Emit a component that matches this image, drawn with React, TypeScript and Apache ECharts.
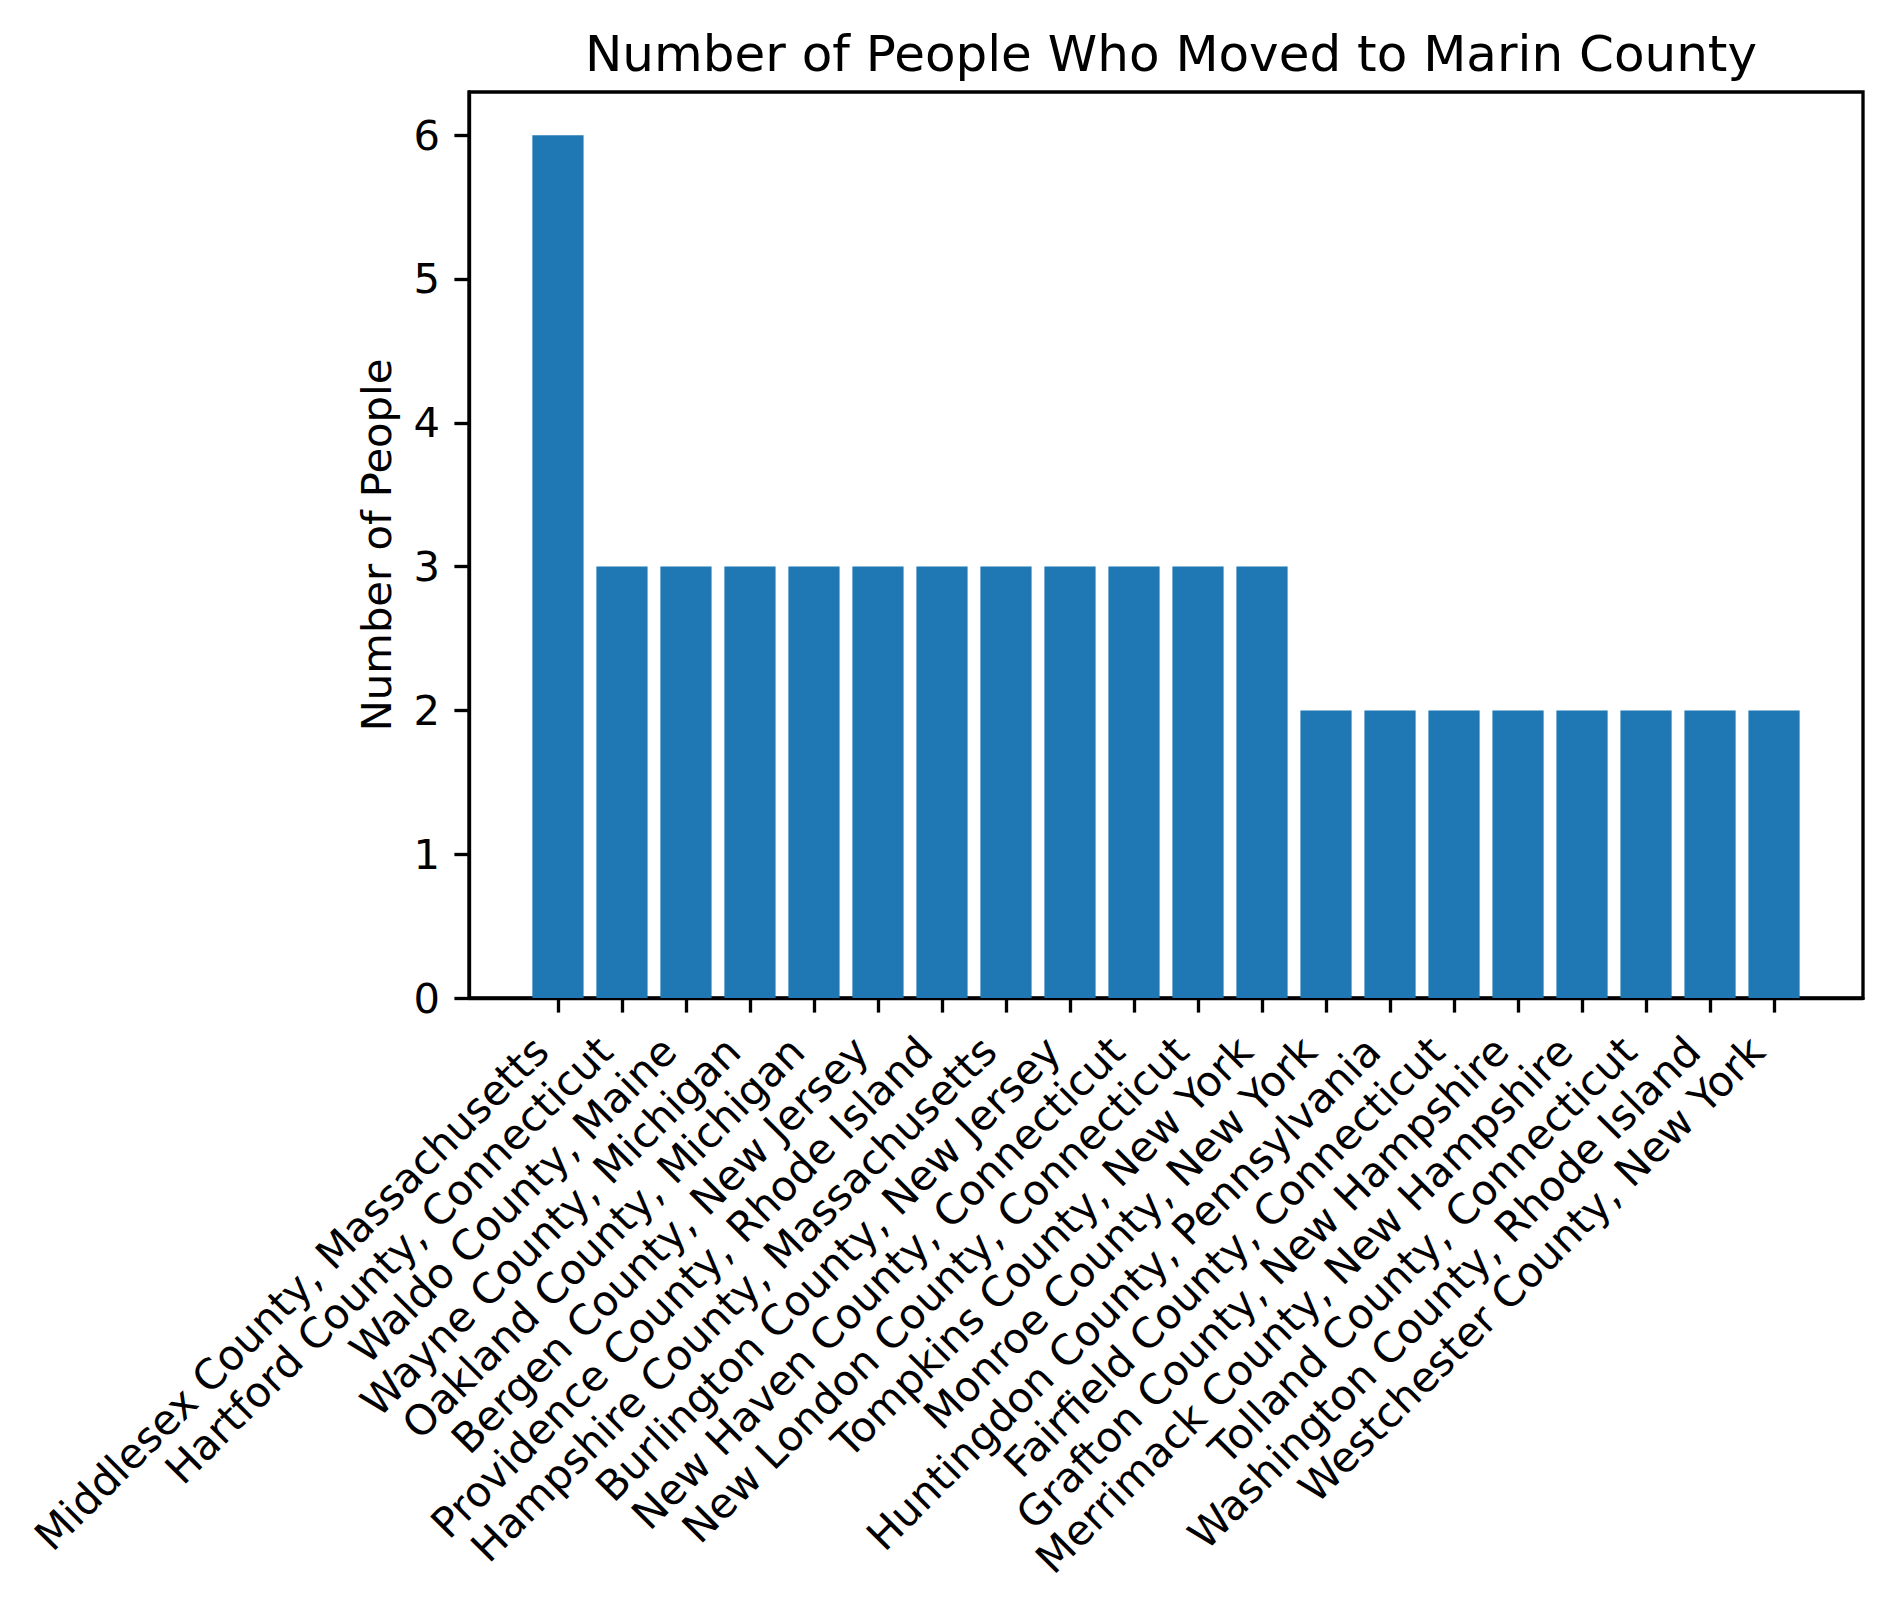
import React, { useEffect, useRef } from "react";
import * as echarts from "echarts";

const categories: string[] = [
  "Middlesex County, Massachusetts",
  "Hartford County, Connecticut",
  "Waldo County, Maine",
  "Wayne County, Michigan",
  "Oakland County, Michigan",
  "Bergen County, New Jersey",
  "Providence County, Rhode Island",
  "Hampshire County, Massachusetts",
  "Burlington County, New Jersey",
  "New Haven County, Connecticut",
  "New London County, Connecticut",
  "Tompkins County, New York",
  "Monroe County, New York",
  "Huntingdon County, Pennsylvania",
  "Fairfield County, Connecticut",
  "Grafton County, New Hampshire",
  "Merrimack County, New Hampshire",
  "Tolland County, Connecticut",
  "Washington County, Rhode Island",
  "Westchester County, New York",
];
const values: number[] = [6, 3, 3, 3, 3, 3, 3, 3, 3, 3, 3, 3, 2, 2, 2, 2, 2, 2, 2, 2];
const yTicks: number[] = [0, 1, 2, 3, 4, 5, 6];

const TITLE = "Number of People Who Moved to Marin County";
const Y_NAME = "Number of People";

export default function App() {
  const ref = useRef<HTMLDivElement>(null);
  useEffect(() => {
    if (!ref.current) return;
    const chart = echarts.init(ref.current, undefined, { renderer: "svg" });
    const gridLeft = 469;
    const gridTop = 92;
    const gridWidth = 1394;
    const gridHeight = 906;
    const xMin = -1.39;
    const xMax = categories.length - 1 + 0.4 + 0.99;
    const barW = (gridWidth / (xMax - xMin)) * 0.8;
    const font = "DejaVu Sans";
    const lw = 3.33;
    const xIdx = categories.map((_, i) => i);
    chart.setOption({
      animation: false,
      backgroundColor: "#ffffff",
      title: {
        text: TITLE,
        left: gridLeft + gridWidth / 2,
        textAlign: "center",
        top: 24,
        textStyle: { fontFamily: font, fontSize: 50, fontWeight: "normal", color: "#000" },
      },
      grid: {
        left: gridLeft,
        top: gridTop,
        width: gridWidth,
        height: gridHeight,
        show: true,
        borderColor: "#000",
        borderWidth: lw,
        backgroundColor: "transparent",
      },
      xAxis: {
        type: "value",
        min: xMin,
        max: xMax,
        splitLine: { show: false },
        axisLine: { show: true, onZero: false, lineStyle: { color: "#000", width: lw } },
        axisTick: {
          show: true,
          length: 14.6,
          customValues: xIdx,
          lineStyle: { color: "#000", width: lw },
        },
        axisLabel: {
          customValues: xIdx,
          rotate: 45,
          margin: 29,
          padding: [0, 24, 0, 0],
          fontFamily: font,
          fontSize: 41.7,
          color: "#000",
          formatter: (v: number) => categories[Math.round(v)] ?? "",
        },
      },
      yAxis: {
        type: "value",
        min: 0,
        max: 6.3,
        name: Y_NAME,
        nameLocation: "middle",
        nameGap: 72,
        nameTextStyle: { fontFamily: font, fontSize: 41.7, color: "#000" },
        splitLine: { show: false },
        axisLine: { show: true, onZero: false, lineStyle: { color: "#000", width: lw } },
        axisTick: {
          show: true,
          length: 14.6,
          customValues: yTicks,
          lineStyle: { color: "#000", width: lw },
        },
        axisLabel: {
          customValues: yTicks,
          margin: 29,
          fontFamily: font,
          fontSize: 41.7,
          color: "#000",
        },
      },
      series: [
        {
          type: "bar",
          data: values.map((v, i) => [i, v]),
          barWidth: barW,
          itemStyle: { color: "#1f77b4" },
        },
      ],
    });
    return () => chart.dispose();
  }, []);
  return (
    <div
      ref={ref}
      style={{ position: "fixed", left: 0, top: 0, width: 1896, height: 1608, background: "#fff" }}
    />
  );
}
